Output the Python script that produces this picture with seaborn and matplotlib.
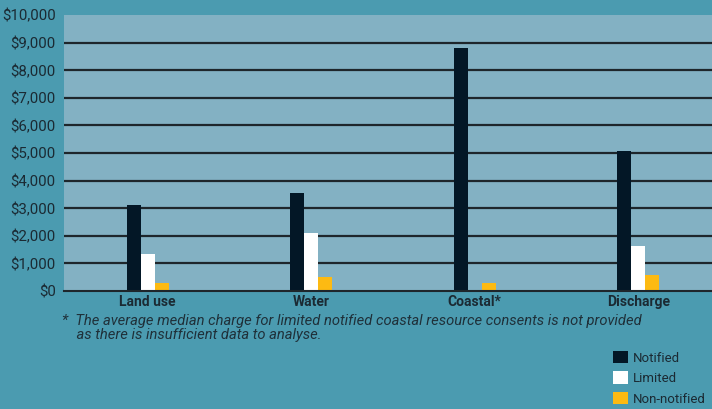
import matplotlib
matplotlib.use("Agg")
import matplotlib.pyplot as plt
import matplotlib.patches as mpatches
import seaborn as sns
import pandas as pd
import numpy as np

categories = ["Land use", "Water", "Coastal*", "Discharge"]
series = ["Notified", "Limited", "Non-notified"]
notified = [3120, 3550, 8800, 5070]
limited = [1340, 2100, np.nan, 1630]
non_notified = [290, 500, 290, 580]
yticks = [0, 1000, 2000, 3000, 4000, 5000, 6000, 7000, 8000, 9000, 10000]
colors = ["#031726", "#ffffff", "#fdba12"]
footnote = ("*  The average median charge for limited notified coastal resource consents is not provided\n"
            "    as there is insufficient data to analyse.")

rows = []
for s, vals in zip(series, [notified, limited, non_notified]):
    for c, v in zip(categories, vals):
        rows.append({"category": c, "series": s, "value": v})
df = pd.DataFrame(rows)

sns.set_theme(style="white")
plt.rcParams["font.family"] = ["Roboto", "DejaVu Sans"]
txt = "#1b2a33"
outer = "#4b9bb0"
inner = "#83b1c3"

fig = plt.figure(figsize=(7.12, 4.09), dpi=100, facecolor=outer)
W, H = 712, 409
left, right, top, bottom = 64, 720, 15, 291
ax = fig.add_axes([left / W, 1 - bottom / H, (right - left) / W, (bottom - top) / H])
ax.set_facecolor(inner)

sns.barplot(data=df, x="category", y="value", hue="series", order=categories,
            hue_order=series, palette=colors, width=0.256, dodge=True,
            saturation=1, errorbar=None, ax=ax, legend=False, linewidth=0)

ax.set_xlim(-0.512, 3.488)
ax.set_ylim(0, 10000)
ax.set_yticks(yticks)
ax.set_yticklabels([f"${v:,}" for v in yticks], fontsize=10.8, color=txt)
for y in yticks[1:-1]:
    ax.axhline(y, color="#1e262b", lw=1.6, zorder=0.5)
ax.set_axisbelow(True)
ax.grid(False)

ax.set_xticks(range(len(categories)))
ax.set_xticklabels(categories, fontsize=10, fontweight="semibold", color=txt)
ax.set_xticks(np.arange(-0.5, 3.6, 1), minor=True)
ax.tick_params(axis="x", which="major", length=0, pad=3)
ax.tick_params(axis="x", which="minor", direction="in", length=5, width=1.2, color="#1e262b")
ax.tick_params(axis="y", length=0, pad=6)
ax.set_xlabel("")
ax.set_ylabel("")
for s in ["top", "right", "left"]:
    ax.spines[s].set_visible(False)
ax.spines["bottom"].set_color("#1e262b")
ax.spines["bottom"].set_linewidth(1.5)

fig.text(62 / W, 1 - 314 / H, footnote, fontsize=10.6, style="italic", color="#1f3039",
         va="top", ha="left", linespacing=1.02)

handles = [mpatches.Patch(facecolor=c, edgecolor="none", label=s) for c, s in zip(colors, series)]
fig.legend(handles=handles, loc="upper left", bbox_to_anchor=(613 / W, 1 - 351 / H),
           frameon=False, fontsize=9.5, handlelength=1.1, handleheight=1.05,
           labelspacing=0.52, handletextpad=0.4, borderaxespad=0, borderpad=0,
           labelcolor=txt)

fig.savefig("out.png", dpi=100, facecolor=outer)
